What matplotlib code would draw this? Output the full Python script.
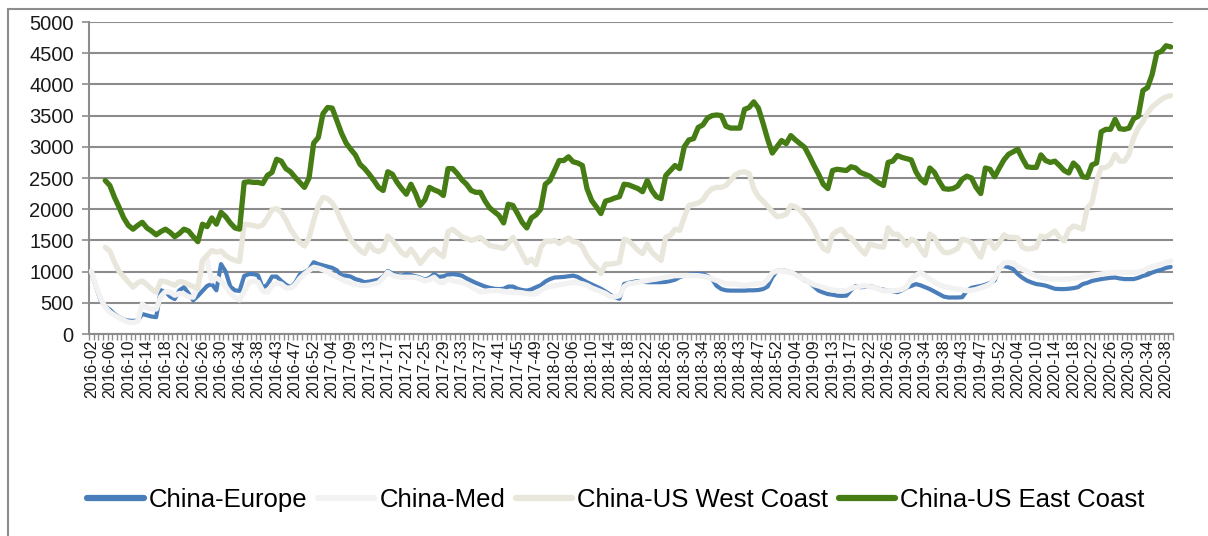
import numpy as np
import matplotlib
matplotlib.use("Agg")
import matplotlib.pyplot as plt
from matplotlib.patches import Rectangle

nan = np.nan

tick_labels = [
    "2016-02", "2016-06", "2016-10", "2016-14", "2016-18", "2016-22", "2016-26", "2016-30",
    "2016-34", "2016-38", "2016-43", "2016-47", "2016-52", "2017-04", "2017-09", "2017-13",
    "2017-17", "2017-21", "2017-25", "2017-29", "2017-33", "2017-37", "2017-41", "2017-45",
    "2017-49", "2018-02", "2018-06", "2018-10", "2018-14", "2018-18", "2018-22", "2018-26",
    "2018-30", "2018-34", "2018-38", "2018-43", "2018-47", "2018-52", "2019-04", "2019-09",
    "2019-13", "2019-17", "2019-22", "2019-26", "2019-30", "2019-34", "2019-38", "2019-43",
    "2019-47", "2019-52", "2020-04", "2020-10", "2020-14", "2020-18", "2020-22", "2020-26",
    "2020-30", "2020-34", "2020-38",
]

china_europe = [
    990, 760, 540, 440, 390, 320, 270, 230, 215, 210,
    215, 320, 300, 280, 270, 700, 680, 600, 560, 700,
    750, 650, 540, 610, 690, 770, 800, 700, 1120, 1000,
    760, 700, 690, 930, 960, 960, 940, 740, 790, 920,
    920, 850, 790, 750, 820, 950, 990, 1030, 1150, 1120,
    1100, 1080, 1060, 1020, 940, 935, 920, 880, 860, 830,
    840, 855, 870, 920, 1010, 970, 945, 935, 960, 945,
    925, 905, 870, 900, 960, 915, 925, 950, 960, 950,
    935, 890, 855, 820, 790, 760, 740, 725, 720, 725,
    760, 760, 725, 705, 695, 715, 750, 780, 840, 880,
    905, 910, 915, 925, 935, 915, 870, 830, 795, 760,
    725, 680, 630, 590, 565, 800, 820, 835, 850, 840,
    830, 830, 830, 830, 835, 850, 870, 910, 935, 950,
    960, 965, 960, 930, 880, 770, 720, 700, 695, 695,
    695, 695, 700, 700, 705, 720, 760, 910, 1010, 1020,
    1010, 990, 965, 920, 860, 830, 760, 695, 665, 640,
    630, 615, 610, 615, 700, 770, 750, 755, 770, 750,
    725, 710, 695, 685, 670, 700, 745, 770, 800, 780,
    750, 720, 680, 640, 600, 585, 585, 585, 590, 690,
    740, 755, 770, 790, 820, 860, 1060, 1090, 1070, 1040,
    960, 900, 855, 825, 800, 790, 775, 750, 725, 720,
    720, 725, 735, 750, 800, 820, 850, 865, 880, 890,
    900, 905, 890, 880, 880, 880, 900, 930, 950, 985,
    1010, 1030, 1060, 1075,
]

china_med = [
    1010, 780, 570, 430, 350, 300, 260, 220, 190, 185,
    200, 480, 420, 400, 400, 600, 680, 670, 620, 650,
    640, 595, 590, 760, 1150, 1180, 850, 900, 850, 760,
    650, 590, 545, 680, 820, 850, 830, 690, 670, 780,
    820, 800, 740, 735, 790, 890, 960, 1020, 1070, 1055,
    1030, 995, 950, 915, 880, 840, 815, 795, 780, 775,
    785, 800, 820, 900, 990, 940, 920, 910, 910, 910,
    905, 885, 850, 870, 910, 840, 820, 880, 850, 840,
    830, 800, 760, 710, 675, 685, 695, 695, 695, 685,
    670, 670, 668, 660, 645, 642, 642, 700, 745, 765,
    776, 790, 800, 815, 830, 820, 805, 780, 740, 710,
    680, 650, 600, 595, 615, 760, 805, 815, 830, 845,
    856, 870, 880, 895, 910, 920, 935, 936, 936, 936,
    936, 935, 925, 910, 885, 856, 830, 805, 803, 803,
    790, 776, 790, 800, 803, 803, 870, 980, 1010, 1015,
    1000, 990, 950, 910, 870, 830, 790, 770, 745, 720,
    705, 695, 693, 693, 730, 750, 765, 773, 760, 746,
    720, 693, 693, 693, 700, 715, 760, 880, 940, 985,
    940, 880, 830, 790, 765, 746, 730, 720, 705, 693,
    700, 715, 740, 765, 800, 900, 1040, 1140, 1146, 1140,
    1080, 1040, 1000, 960, 930, 906, 890, 880, 880, 880,
    880, 880, 890, 900, 915, 930, 940, 950, 960, 975,
    986, 986, 986, 986, 986, 986, 990, 1010, 1050, 1080,
    1100, 1120, 1145, 1170,
]

china_us_west = [
    nan, nan, nan, 1390, 1330, 1150, 1000, 920, 830, 750,
    820, 850, 790, 720, 670, 850, 840, 810, 780, 840,
    830, 790, 760, 730, 1180, 1260, 1340, 1310, 1330, 1260,
    1210, 1180, 1160, 1760, 1750, 1740, 1720, 1750, 1860, 1990,
    2010, 1950, 1830, 1680, 1570, 1470, 1410, 1540, 1820, 2050,
    2190, 2170, 2100, 1980, 1810, 1660, 1510, 1420, 1340, 1290,
    1440, 1350, 1320, 1360, 1570, 1500, 1400, 1300, 1260, 1360,
    1260, 1130, 1220, 1320, 1360, 1290, 1240, 1640, 1680, 1620,
    1560, 1530, 1500, 1520, 1550, 1480, 1420, 1400, 1390, 1370,
    1450, 1550, 1420, 1280, 1140, 1200, 1110, 1380, 1490, 1480,
    1500, 1450, 1500, 1540, 1480, 1470, 1400, 1250, 1140, 1070,
    970, 1120, 1120, 1130, 1150, 1520, 1490, 1420, 1340, 1290,
    1440, 1310, 1240, 1180, 1550, 1580, 1680, 1660, 1870, 2060,
    2080, 2100, 2150, 2260, 2330, 2350, 2350, 2380, 2460, 2550,
    2590, 2600, 2570, 2330, 2200, 2130, 2050, 1960, 1880, 1890,
    1920, 2060, 2040, 1980, 1900, 1800, 1680, 1500, 1370, 1330,
    1590, 1650, 1680, 1580, 1540, 1450, 1360, 1280, 1440, 1420,
    1400, 1390, 1700, 1600, 1600, 1530, 1420, 1520, 1480, 1360,
    1260, 1600, 1550, 1400, 1310, 1300, 1330, 1370, 1520, 1500,
    1460, 1330, 1230, 1460, 1490, 1370, 1460, 1590, 1550, 1550,
    1540, 1390, 1360, 1370, 1390, 1570, 1550, 1600, 1650, 1550,
    1490, 1670, 1730, 1710, 1680, 2020, 2100, 2450, 2660, 2670,
    2720, 2880, 2770, 2770, 2880, 3140, 3300, 3400, 3540, 3640,
    3700, 3760, 3800, 3820,
]

china_us_east = [
    nan, nan, nan, 2460, 2380, 2190, 2030, 1860, 1740, 1680,
    1740, 1790, 1700, 1650, 1590, 1640, 1680, 1630, 1560, 1610,
    1680, 1650, 1560, 1480, 1760, 1720, 1860, 1760, 1950, 1880,
    1780, 1700, 1680, 2430, 2440, 2430, 2430, 2410, 2540, 2590,
    2800, 2770, 2650, 2600, 2510, 2430, 2350, 2500, 3060, 3150,
    3530, 3630, 3620, 3420, 3220, 3060, 2960, 2870, 2720, 2650,
    2560, 2460, 2350, 2300, 2600, 2560, 2430, 2330, 2240, 2400,
    2250, 2060, 2150, 2350, 2310, 2280, 2220, 2650, 2650, 2570,
    2470, 2400, 2300, 2270, 2270, 2130, 2020, 1960, 1900, 1780,
    2080, 2060, 1930, 1790, 1700, 1860, 1910, 2000, 2400, 2460,
    2620, 2780, 2780, 2840, 2760, 2740, 2700, 2330, 2140, 2040,
    1930, 2130, 2150, 2180, 2200, 2400, 2390, 2360, 2330, 2280,
    2460, 2300, 2200, 2170, 2540, 2620, 2700, 2650, 3000, 3110,
    3130, 3310, 3350, 3460, 3500, 3510, 3500, 3330, 3300, 3300,
    3300, 3600, 3630, 3720, 3620, 3380, 3120, 2900, 3000, 3100,
    3050, 3180, 3110, 3050, 2990, 2850, 2700, 2560, 2400, 2330,
    2620, 2640, 2630, 2620, 2680, 2660, 2590, 2560, 2530, 2470,
    2420, 2380, 2750, 2770, 2860, 2830, 2810, 2790, 2600, 2480,
    2420, 2660, 2590, 2450, 2330, 2320, 2330, 2370, 2480, 2530,
    2500, 2350, 2250, 2660, 2640, 2520, 2660, 2790, 2880, 2920,
    2960, 2810, 2680, 2670, 2670, 2870, 2780, 2750, 2770, 2700,
    2620, 2580, 2740, 2670, 2520, 2510, 2710, 2740, 3240, 3280,
    3280, 3440, 3290, 3280, 3300, 3450, 3490, 3900, 3950, 4160,
    4500, 4530, 4620, 4600,
]

series_names = ["China-Europe", "China-Med", "China-US West Coast", "China-US East Coast"]
series_values = [china_europe, china_med, china_us_west, china_us_east]
series_colors = ["#4a7ebb", "#f2f2f2", "#e9e6dc", "#457c14"]
series_widths = [3.0, 3.8, 3.8, 3.8]

plt.rcParams["font.family"] = ["Liberation Sans", "DejaVu Sans"]

W, H = 1208, 536
fig = plt.figure(figsize=(W / 100, H / 100), dpi=100)
fig.patch.set_facecolor("white")

# outer chart frame (left & top visible)
fig.patches.append(Rectangle((8 / W, -0.2), 1.5, (H - 9) / H + 0.2,
                             transform=fig.transFigure, fill=False,
                             edgecolor="#8c8c8c", linewidth=1.5, zorder=0))

ax = fig.add_axes([89 / W, (H - 334) / H, (1173 - 89) / W, (334 - 22) / H])
n = len(china_europe)
x = np.arange(n)

handles = []
for name, vals, col, lw in zip(series_names, series_values, series_colors, series_widths):
    h, = ax.plot(x, vals, color=col, linewidth=lw, label=name,
                 solid_joinstyle="round", solid_capstyle="round", zorder=3)
    handles.append(h)

ax.set_xlim(-0.5, n - 0.5)
ax.set_ylim(0, 5000)
ax.set_yticks(np.arange(0, 5001, 500))
ax.yaxis.grid(True, color="#8c8c8c", linewidth=1.5, zorder=1)
ax.set_axisbelow(True)

ax.set_xticks(np.arange(0, 4 * len(tick_labels), 4))
ax.set_xticklabels(tick_labels, rotation=90, fontsize=11.5, color="#1a1a1a")
ax.set_xticks(np.arange(-0.5, n, 1), minor=True)
ax.tick_params(axis="x", which="major", length=0, pad=4)
ax.tick_params(axis="x", which="minor", length=4, width=1, color="#8c8c8c", direction="out")
ax.tick_params(axis="y", length=5, width=1.2, color="#8c8c8c", labelsize=14.5,
               labelcolor="#1a1a1a", pad=6)

for s in ["top", "right"]:
    ax.spines[s].set_visible(False)
for s in ["left", "bottom"]:
    ax.spines[s].set_color("#8c8c8c")
    ax.spines[s].set_linewidth(1.5)

leg = fig.legend(handles=handles, loc="center", bbox_to_anchor=(616 / W, 36 / H),
                 ncol=4, frameon=False, fontsize=18.5, handlelength=2.2,
                 handletextpad=0.2, columnspacing=0.4)
for lh in leg.get_lines():
    lh.set_linewidth(4.5)

fig.savefig("out.png", dpi=100, facecolor="white")
